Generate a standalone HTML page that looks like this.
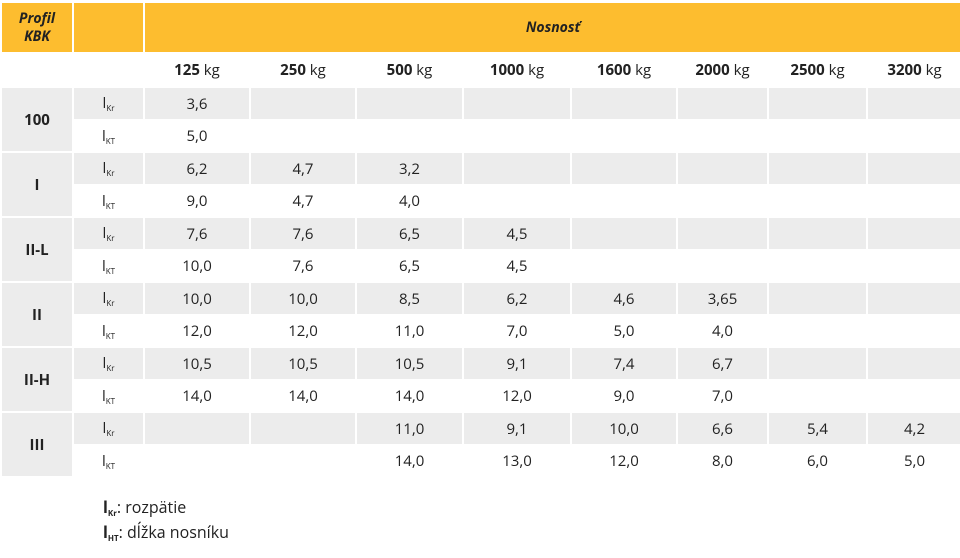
<!DOCTYPE html>
<html><head><meta charset="utf-8"><style>
body{margin:0;background:#fff;width:960px;height:558px;overflow:hidden;font-family:"Open Sans","Liberation Sans",sans-serif;color:#222}
table{position:absolute;left:0;top:1px;border-collapse:collapse;table-layout:fixed;width:961px}
td{border:2px solid #fff;padding:0;text-align:center;font-size:15px;overflow:hidden;white-space:nowrap}
tr.y{height:51px}
.y td{background:#fdbd2f;font-weight:bold;font-style:italic;font-size:14px;line-height:18px}
tr.k{height:34px}
.k td{font-size:15px}
tr.g td{background:#ececec}
td.p{background:#ececec !important;font-weight:bold}
tr.b1{height:33px}
tr.b2{height:32px}
sub{font-size:8px;vertical-align:-3px}
.leg{position:absolute;left:103px;font-size:16px}
</style></head><body>
<table>
<colgroup><col style="width:72px"><col style="width:71px"><col style="width:106px"><col style="width:106px"><col style="width:107px"><col style="width:108px"><col style="width:106px"><col style="width:91px"><col style="width:99px"><col style="width:95px"></colgroup>
<tr class="y"><td>Profil<br>KBK</td><td></td><td colspan="8">Nosnosť</td></tr>
<tr class="k"><td></td><td></td><td><b>125</b> kg</td><td><b>250</b> kg</td><td><b>500</b> kg</td><td><b>1000</b> kg</td><td><b>1600</b> kg</td><td><b>2000</b> kg</td><td><b>2500</b> kg</td><td><b>3200</b> kg</td></tr>
<tr class="g b1"><td class="p" rowspan="2">100</td><td>l<sub>Kr</sub></td><td>3,6</td><td></td><td></td><td></td><td></td><td></td><td></td><td></td></tr>
<tr class="b2"><td>l<sub>KT</sub></td><td>5,0</td><td></td><td></td><td></td><td></td><td></td><td></td><td></td></tr>
<tr class="g b1"><td class="p" rowspan="2">I</td><td>l<sub>Kr</sub></td><td>6,2</td><td>4,7</td><td>3,2</td><td></td><td></td><td></td><td></td><td></td></tr>
<tr class="b2"><td>l<sub>KT</sub></td><td>9,0</td><td>4,7</td><td>4,0</td><td></td><td></td><td></td><td></td><td></td></tr>
<tr class="g b1"><td class="p" rowspan="2">II-L</td><td>l<sub>Kr</sub></td><td>7,6</td><td>7,6</td><td>6,5</td><td>4,5</td><td></td><td></td><td></td><td></td></tr>
<tr class="b2"><td>l<sub>KT</sub></td><td>10,0</td><td>7,6</td><td>6,5</td><td>4,5</td><td></td><td></td><td></td><td></td></tr>
<tr class="g b1"><td class="p" rowspan="2">II</td><td>l<sub>Kr</sub></td><td>10,0</td><td>10,0</td><td>8,5</td><td>6,2</td><td>4,6</td><td>3,65</td><td></td><td></td></tr>
<tr class="b2"><td>l<sub>KT</sub></td><td>12,0</td><td>12,0</td><td>11,0</td><td>7,0</td><td>5,0</td><td>4,0</td><td></td><td></td></tr>
<tr class="g b1"><td class="p" rowspan="2">II-H</td><td>l<sub>Kr</sub></td><td>10,5</td><td>10,5</td><td>10,5</td><td>9,1</td><td>7,4</td><td>6,7</td><td></td><td></td></tr>
<tr class="b2"><td>l<sub>KT</sub></td><td>14,0</td><td>14,0</td><td>14,0</td><td>12,0</td><td>9,0</td><td>7,0</td><td></td><td></td></tr>
<tr class="g b1"><td class="p" rowspan="2">III</td><td>l<sub>Kr</sub></td><td></td><td></td><td>11,0</td><td>9,1</td><td>10,0</td><td>6,6</td><td>5,4</td><td>4,2</td></tr>
<tr class="b2"><td>l<sub>KT</sub></td><td></td><td></td><td>14,0</td><td>13,0</td><td>12,0</td><td>8,0</td><td>6,0</td><td>5,0</td></tr>
</table>
<div class="leg" style="top:496px"><b>l<sub>Kr</sub></b>: rozpätie</div>
<div class="leg" style="top:521px"><b>l<sub>HT</sub></b>: dĺžka nosníku</div>
</body></html>
